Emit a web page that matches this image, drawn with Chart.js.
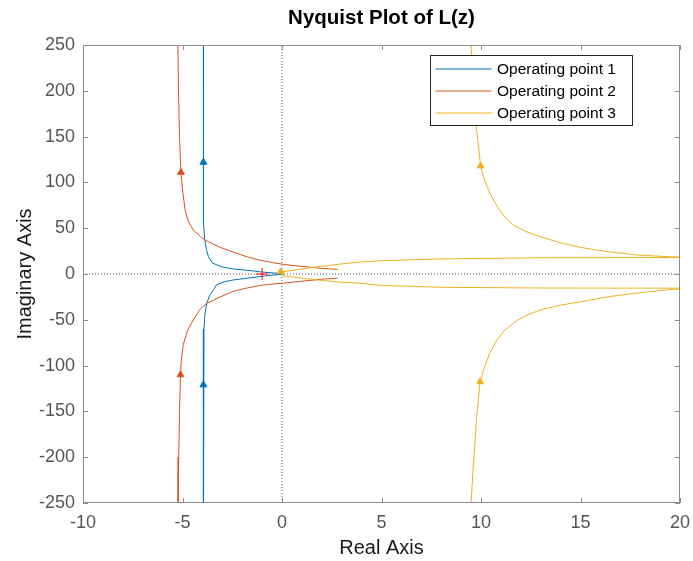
<!DOCTYPE html>
<html lang="en">
<head>
<meta charset="UTF-8">
<title>Nyquist Plot of L(z)</title>
<script src="https://cdn.jsdelivr.net/npm/chart.js"></script>
<style>
  html, body { margin: 0; padding: 0; background: #fff; }
  #wrap { width: 693px; height: 561px; }
</style>
</head>
<body>
<div id="wrap"><canvas id="nyq" width="693" height="561"></canvas></div>
<script>
  // Nyquist curves: real / imaginary parts, traced from +j∞ down to -j∞
  const seriesNames = ['Operating point 1', 'Operating point 2', 'Operating point 3'];
  const seriesColors = ['#0072BD', '#D95319', '#EDB120'];

  const op1Re = [-3.95, -3.95, -3.95, -3.95, -3.95, -3.93, -3.88, -3.80, -3.70, -3.50, -3.05, -2.45, -1.60, -1.10, -0.60, -0.20, 0.00,
                 -0.20, -0.60, -1.10, -1.60, -2.45, -2.90, -3.30, -3.45, -3.65, -3.78, -3.87, -3.92, -3.95, -3.95, -3.95, -3.95, -3.95];
  const op1Im = [300, 250, 160, 122, 80, 55, 37, 27, 19, 12, 8, 5.5, 3.8, 2.4, 1.4, 0.7, 0,
                 -0.7, -1.4, -2.8, -4.2, -6.5, -8.5, -12, -17.5, -24, -32, -43, -60, -90, -121, -160, -250, -300];

  const op2Re = [-5.24, -5.23, -5.20, -5.15, -5.08, -5.00, -4.87, -4.70, -4.46, -4.10, -3.87, -3.10, -2.45, -1.80, -1.10, -0.50, 0.07, 0.70, 1.40, 2.10, 2.80,
                 2.80,
                 2.80, 2.10, 1.40, 0.70, 0.07, -0.50, -1.10, -1.80, -2.45, -3.10, -3.78, -4.10, -4.46, -4.75, -4.96, -5.06, -5.10, -5.15, -5.19, -5.22, -5.23];
  const op2Im = [300, 250, 200, 150, 111, 92, 70, 57, 48, 41, 37, 29, 24, 19, 15, 12.5, 10.5, 9, 7.5, 6, 5,
                 null,
                 -4.5, -5.5, -7, -8.5, -10, -11, -12.5, -15.5, -19, -25, -32, -38, -50, -62, -77, -95, -110, -150, -200, -250, -300];

  const op3Re = [9.45, 9.50, 9.60, 9.77, 9.98, 10.15, 10.45, 10.80, 11.20, 11.60, 12.30, 12.97, 14.00, 15.00, 16.50, 18.00, 19.70, 21.00,
                 21.00, 13.00, 7.90, 6.50, 5.00, 3.90, 3.00, 2.00, 1.00, 0.05,
                 0.05, 1.00, 2.00, 3.00, 3.90, 5.00, 6.50, 7.90, 13.00, 21.00,
                 21.00, 19.66, 18.00, 16.50, 15.50, 14.00, 12.97, 12.30, 11.80, 11.20, 10.80, 10.45, 10.15, 9.95, 9.77, 9.60, 9.50, 9.45];
  const op3Im = [300, 250, 214, 159, 118, 104, 88, 74, 62, 53.5, 46, 40.8, 34, 29, 24, 20.5, 18.6, 18.2,
                 18.0, 17.8, 16.4, 15.5, 14.5, 13.0, 11.0, 8.5, 5.5, 2.5,
                 -2.0, -4.5, -7.0, -9.0, -10.0, -12.5, -13.5, -14.5, -15.3, -15.5,
                 -16, -16.7, -20.4, -24.5, -28.4, -34, -39.3, -45, -51, -61, -72, -86, -103, -117.6, -159, -214, -250, -300];

  // direction arrows on each curve
  const arrow1Re = [-3.95, -3.95];
  const arrow1Im = [122, -121];
  const arrow2Re = [-5.08, -5.10];
  const arrow2Im = [111, -110];
  const arrow3Re = [9.98, 9.95, -0.07];
  const arrow3Im = [118, -117.6, 2.5];

  // critical point -1 + 0j
  const critRe = [-1];
  const critIm = [0];

  const xTicks = [-10, -5, 0, 5, 10, 15, 20];
  const yTicks = [-250, -200, -150, -100, -50, 0, 50, 100, 150, 200, 250];

  const pts = (re, im) => re.map((x, i) => ({ x: x, y: im[i] }));

  Chart.defaults.font.family = "'Liberation Sans', Arial, Helvetica, sans-serif";

  function curve(i, re, im, order) {
    return {
      label: seriesNames[i],
      data: pts(re, im),
      showLine: true,
      borderColor: seriesColors[i],
      backgroundColor: seriesColors[i],
      borderWidth: 1,
      pointRadius: 0,
      spanGaps: false,
      order: order
    };
  }

  function arrows(i, re, im) {
    return {
      data: pts(re, im),
      showLine: false,
      pointStyle: 'triangle',
      pointRadius: 4,
      borderWidth: 1,
      borderColor: seriesColors[i],
      backgroundColor: seriesColors[i],
      order: 1
    };
  }

  function zeroLine(re, im) {
    return {
      data: pts(re, im),
      showLine: true,
      borderColor: '#555',
      borderWidth: 1,
      borderDash: [1, 2],
      pointRadius: 0,
      order: 10
    };
  }

  // inward tick marks, axes box and the legend
  const axesBox = {
    id: 'axesBox',
    afterDatasetsDraw(chart) {
      const { ctx, chartArea: a, scales } = chart;
      ctx.save();
      ctx.strokeStyle = '#8c8c8c';
      ctx.lineWidth = 1;
      ctx.beginPath();
      xTicks.forEach(v => {
        const px = Math.round(scales.x.getPixelForValue(v)) + 0.5;
        ctx.moveTo(px, a.bottom); ctx.lineTo(px, a.bottom - 5);
        ctx.moveTo(px, a.top); ctx.lineTo(px, a.top + 5);
      });
      yTicks.forEach(v => {
        const py = Math.round(scales.y.getPixelForValue(v)) + 0.5;
        ctx.moveTo(a.left, py); ctx.lineTo(a.left + 5, py);
        ctx.moveTo(a.right, py); ctx.lineTo(a.right - 5, py);
      });
      ctx.stroke();
      ctx.strokeRect(a.left + 0.5, a.top + 0.5, a.width - 1, a.height - 1);

      const bx = a.right - 249.5, by = a.top + 10.5, bw = 202, bh = 70;
      ctx.fillStyle = '#fff';
      ctx.fillRect(bx, by, bw, bh);
      ctx.strokeStyle = '#262626';
      ctx.strokeRect(bx, by, bw, bh);
      ctx.font = "15.5px 'Liberation Sans', Arial, sans-serif";
      ctx.textBaseline = 'middle';
      ctx.textAlign = 'left';
      seriesNames.forEach((name, i) => {
        const ry = Math.round(by + 13 + i * 22);
        ctx.strokeStyle = seriesColors[i];
        ctx.beginPath();
        ctx.moveTo(bx + 5, ry); ctx.lineTo(bx + 61, ry);
        ctx.stroke();
        ctx.fillStyle = '#000';
        ctx.fillText(name, bx + 66.5, ry + 1);
      });
      ctx.restore();
    }
  };

  new Chart(document.getElementById('nyq'), {
    type: 'scatter',
    data: {
      datasets: [
        arrows(0, arrow1Re, arrow1Im),
        arrows(1, arrow2Re, arrow2Im),
        arrows(2, arrow3Re, arrow3Im),
        {
          data: pts(critRe, critIm),
          pointStyle: 'cross',
          pointRadius: 6,
          borderWidth: 1,
          borderColor: '#ff0000',
          order: 0
        },
        curve(2, op3Re, op3Im, 3),
        curve(1, op2Re, op2Im, 4),
        curve(0, op1Re, op1Im, 5),
        zeroLine([0, 0], [-250, 250]),
        zeroLine([-10, 20], [0, 0])
      ]
    },
    options: {
      responsive: false,
      animation: false,
      layout: { padding: { left: 0, right: 13, top: 0, bottom: 0 } },
      plugins: {
        legend: { display: false },
        tooltip: { enabled: false },
        title: {
          display: true,
          text: 'Nyquist Plot of L(z)',
          fullSize: false,
          color: '#000',
          font: { size: 20.5, weight: 'bold' },
          padding: { top: 6, bottom: 14.4 }
        }
      },
      scales: {
        x: {
          type: 'linear',
          min: -10,
          max: 20,
          afterBuildTicks: s => { s.ticks = xTicks.map(v => ({ value: v })); },
          afterFit: s => { s.height = 58; s.paddingLeft = 0; s.paddingRight = 0; },
          grid: { display: false, drawTicks: false },
          border: { display: false },
          ticks: { color: '#555', font: { size: 18 }, padding: 9, maxRotation: 0, autoSkip: false },
          title: { display: true, text: 'Real Axis', color: '#1a1a1a', font: { size: 20 }, padding: { top: 0, bottom: 1 } }
        },
        y: {
          type: 'linear',
          min: -250,
          max: 250,
          afterBuildTicks: s => { s.ticks = yTicks.map(v => ({ value: v })); },
          afterFit: s => { s.width = 83; s.paddingTop = 0; s.paddingBottom = 0; },
          grid: { display: false, drawTicks: false },
          border: { display: false },
          ticks: { color: '#555', font: { size: 18 }, padding: 8, autoSkip: false },
          title: { display: true, text: 'Imaginary Axis', color: '#1a1a1a', font: { size: 20 }, padding: { top: 13, bottom: 0 } }
        }
      }
    },
    plugins: [axesBox]
  });
</script>
</body>
</html>
